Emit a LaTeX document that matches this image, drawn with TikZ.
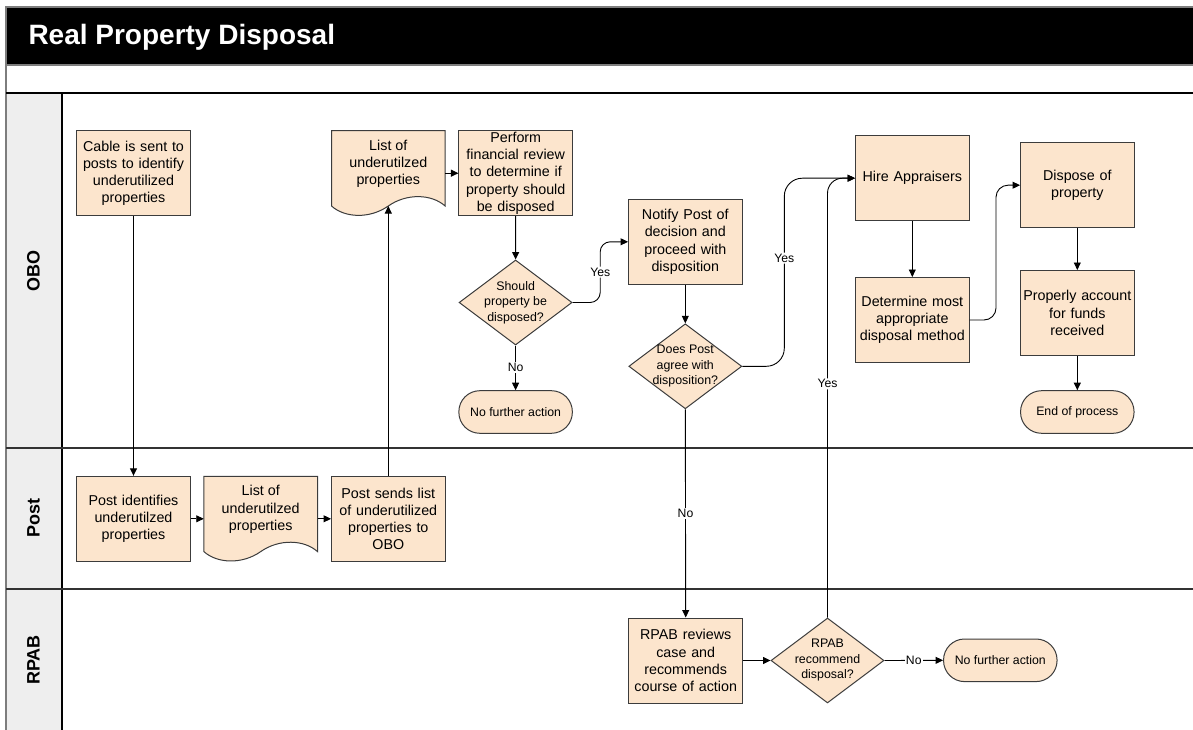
\documentclass[tikz,border=0pt]{standalone}
\usepackage{fontspec}
\setmainfont{Liberation Sans}
\usetikzlibrary{arrows.meta,shapes.geometric,calc}

\definecolor{boxfill}{RGB}{252,229,205}
\definecolor{boxline}{RGB}{60,60,60}
\definecolor{lanehead}{RGB}{238,238,238}
\definecolor{rulecol}{RGB}{50,50,50}
\definecolor{framegray}{RGB}{125,125,125}

\newcommand\boxfont{\fontsize{14.3}{17.2}\selectfont}
\newcommand\decfont{\fontsize{12.4}{15.5}\selectfont}
\newcommand\termfont{\fontsize{12.3}{14.8}\selectfont}
\newcommand\lblfont{\fontsize{12.2}{14.6}\selectfont}

% outline of a document shape (wavy bottom) centred on #1
\newcommand\docoutline[1]{%
  \filldraw[draw=boxline, fill=boxfill, line width=1pt, shift={(#1)}]
    (-56.8,-42.5) -- (56.8,-42.5) -- (56.8,32.8)
    .. controls (43.5,20.8) and (18.5,19.8) .. (0,32.8)
    .. controls (-18.5,45.8) and (-43.5,44.8) .. (-56.8,32.8) -- cycle;}

\begin{document}
\begin{tikzpicture}[x=1pt,y=-1pt,
  proc/.style={draw=boxline, fill=boxfill, line width=1pt, minimum width=113.5pt,
    minimum height=85pt, inner sep=0pt, text width=111pt, align=center, font=\boxfont},
  docbox/.style={minimum width=113.5pt, minimum height=85pt, inner sep=0pt},
  doclabel/.style={font=\boxfont, align=center, yshift=9.5pt},
  dec/.style={diamond, draw=boxline, fill=boxfill, line width=1pt, inner sep=0pt,
    minimum width=113pt, minimum height=85pt},
  declabel/.style={font=\decfont, align=center},
  term/.style={draw=boxline, fill=boxfill, line width=1pt, rounded corners=21pt,
    minimum width=113.5pt, minimum height=42.6pt, inner sep=0pt, font=\termfont},
  lanename/.style={rotate=90, font=\fontsize{18}{21}\selectfont\bfseries},
  conn/.style={draw=black, line width=0.9pt, -{Triangle[length=7.5pt,width=7pt]}},
  lbl/.style={fill=white, inner sep=1.2pt, font=\lblfont},
]
\useasboundingbox (0,0) rectangle (1193,730);

% ---- frame, title bar and swimlanes ----
\fill[black] (6,7) rectangle (1193,65);
\fill[lanehead] (6,93) rectangle (62,730);
\draw[framegray, line width=1.3pt] (6,730) -- (6,7) -- (1193,7);
\draw[framegray, line width=1.3pt] (6,65) -- (1193,65);
\draw[black, line width=1.5pt] (6,93) -- (1193,93);
\draw[black, line width=1.2pt] (62,93) -- (62,730);
\draw[rulecol, line width=1.8pt] (6,448) -- (1193,448);
\draw[rulecol, line width=1.8pt] (6,589) -- (1193,589);

\node[anchor=base west, text=white, font=\fontsize{28}{33}\selectfont\bfseries]
  (title) at (25,45) {Real Property Disposal};

\node[lanename] (laneobo) at (33.5,271) {OBO};
\node[lanename] (lanepost) at (33.5,518) {Post};
\node[lanename] (lanerpab) at (33.5,660) {RPAB};

% ---- OBO lane ----
\node[proc] (cable) at (133.5,173.2) {Cable is sent to\\posts to identify\\underutilized\\properties};

\docoutline{388.3,173.2}
\node[docbox, label={[doclabel]center:{List of\\underutilzed\\properties}}] (list1) at (388.3,173.2) {};
\coordinate (list1wave) at ($(list1.center)+(0,32.8)$);

\node[proc] (review) at (515.7,173.2) {Perform\\financial review\\to determine if\\property should\\be disposed};
\node[dec, label={[declabel]center:{Should\\property be\\disposed?}}] (should) at (515.6,302.5) {};
\node[term] (nfa1) at (515.6,412) {No further action};

\node[proc] (notify) at (685.3,241.8) {Notify Post of\\decision and\\proceed with\\disposition};
\node[dec, label={[declabel]center:{Does Post\\agree with\\disposition?}}] (agree) at (685.3,366.3) {};

\node[proc] (hire) at (912.3,178.2) {Hire Appraisers};
\node[proc] (determine) at (912.3,320) {Determine most\\appropriate\\disposal method};

\node[proc] (dispose) at (1077.3,185.2) {Dispose of\\property};
\node[proc] (account) at (1077.3,313) {Properly account\\for funds\\received};
\node[term] (endp) at (1077.3,412) {End of process};

% ---- Post lane ----
\node[proc] (identify) at (133.5,518.8) {Post identifies\\underutilzed\\properties};
\docoutline{260.7,518.8}
\node[docbox, label={[doclabel]center:{List of\\underutilzed\\properties}}] (list2) at (260.7,518.8) {};
\node[proc] (sends) at (388.3,518.8) {Post sends list\\of underutilized\\properties to\\OBO};

% ---- RPAB lane ----
\node[proc] (rpabrev) at (685.7,660.5) {RPAB reviews\\case and\\recommends\\course of action};
\node[dec, label={[declabel]center:{RPAB\\recommend\\disposal?}}] (recommend) at (827.5,660.5) {};
\node[term] (nfa2) at (1000.3,660.3) {No further action};

% ---- connectors ----
\coordinate (jyes1) at (600.2,0);
\coordinate (jyes2) at (784.3,0);
\coordinate (jdisp) at (996,0);

\draw[conn] (cable) -- (identify);
\draw[conn] (identify) -- (list2);
\draw[conn] (list2) -- (sends);
\draw[conn] (sends.north) -- (list1wave);
\draw[conn] (list1) -- (review);
\draw[conn] (review) -- (should);
\draw[conn] (should.south) -- node[lbl]{No} (nfa1.north);
\draw[conn, rounded corners=10pt] (should.east) -- (should.east -| jyes1)
  -- node[lbl]{Yes} (notify.west -| jyes1) -- (notify.west);
\draw[conn] (notify) -- (agree);
\draw[conn, rounded corners=18pt] (agree.east) -- (agree.east -| jyes2)
  -- node[lbl, pos=0.575]{Yes} (hire.west -| jyes2) -- (hire.west);
\draw[conn] (agree.south) -- node[lbl]{No} (rpabrev.north);
\draw[conn] (rpabrev) -- (recommend);
\draw[conn] (recommend.east) -- node[lbl]{No} (nfa2.west);
\draw[conn, rounded corners=15pt] (recommend.north)
  -- node[lbl, pos=0.532]{Yes} (recommend.north |- hire.west) -- (hire.west);
\draw[conn] (hire) -- (determine);
\draw[conn, rounded corners=12pt] (determine.east) -- (determine.east -| jdisp)
  -- (dispose.west -| jdisp) -- (dispose.west);
\draw[conn] (dispose) -- (account);
\draw[conn] (account) -- (endp);
\end{tikzpicture}
\end{document}
